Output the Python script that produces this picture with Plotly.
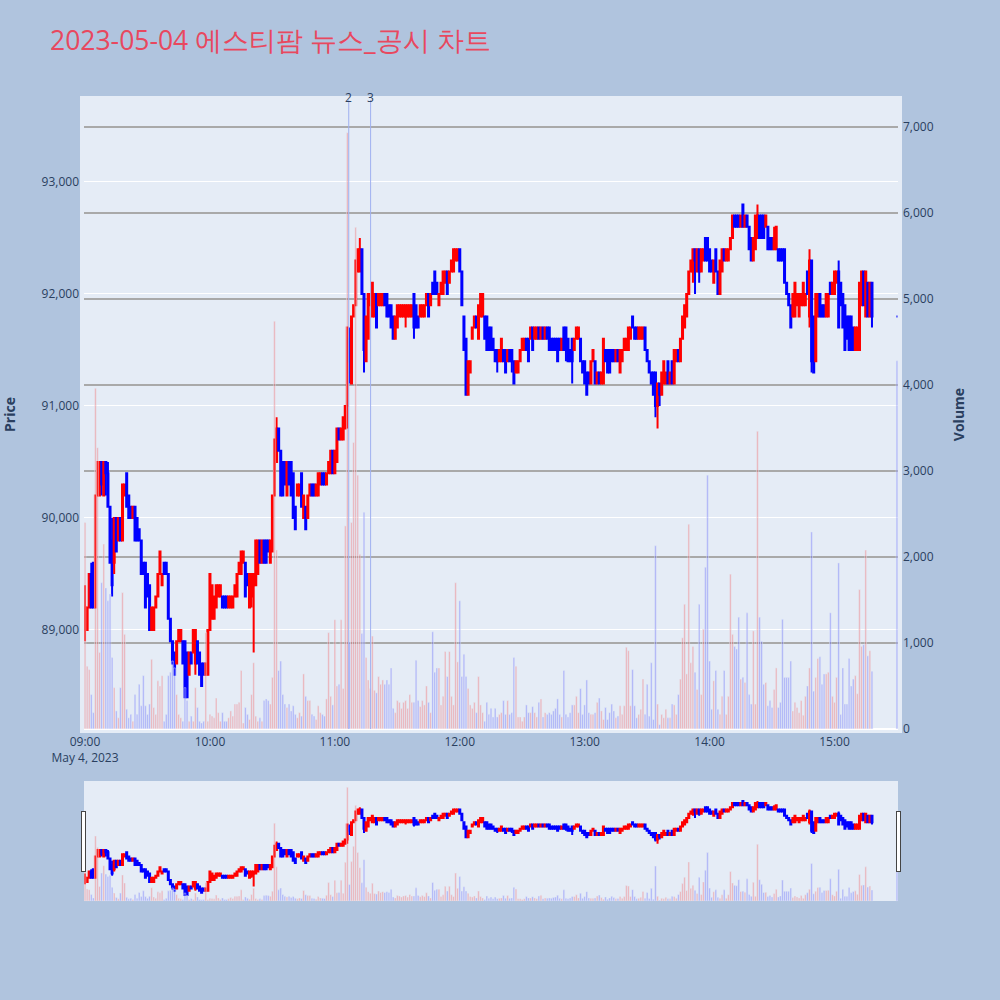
import pandas as pd
import plotly.graph_objects as go
from plotly.subplots import make_subplots

TITLE = "2023-05-04 에스티팜 뉴스_공시 차트"

# one-minute bars 09:00..15:18 plus the 15:30 closing auction
times = list(pd.date_range("2023-05-04 09:00", periods=379, freq="min")) + [pd.Timestamp("2023-05-04 15:30")]

opens = [
 89000, 89000, 89200, 89500, 89600, 89200, 90200, 90200, 90500, 90200,
 90500, 90400, 90100, 89800, 89600, 90000, 89800, 90000, 89800, 90200,
 90400, 90200, 90100, 90000, 90100, 90000, 89900, 89800, 89600, 89600,
 89500, 89400, 89000, 89000, 89200, 89300, 89500, 89400, 89600, 89600,
 89500, 89100, 88900, 88800, 88700, 88900, 88900, 88900, 88900, 88800,
 88600, 88800, 88800, 88700, 88900, 88800, 88700, 88700, 88600, 88600,
 89000, 89100, 89100, 89200, 89300, 89300, 89300, 89300, 89300, 89200,
 89200, 89200, 89300, 89300, 89500, 89500, 89600, 89600, 89500, 89200,
 89300, 89400, 89400, 89500, 89800, 89600, 89800, 89800, 89800, 89600,
 89700, 90200, 90500, 90800, 90600, 90500, 90500, 90200, 90500, 90500,
 90400, 90100, 90200, 90200, 90400, 90000, 90100, 90000, 90200, 90300,
 90300, 90200, 90200, 90300, 90400, 90400, 90300, 90400, 90400, 90600,
 90400, 90500, 90800, 90700, 90700, 90800, 91000, 91600, 91200, 91800,
 91900, 92200, 92200, 92400, 92000, 91400, 91600, 91900, 91800, 91800,
 92000, 91900, 91900, 91900, 92000, 92000, 91900, 91900, 91800, 91600,
 91700, 91800, 91800, 91800, 91800, 91800, 91800, 91800, 92000, 91900,
 91800, 91800, 91800, 91800, 91900, 92000, 91900, 92100, 92200, 92100,
 91900, 92000, 92000, 92100, 92200, 92100, 92200, 92200, 92300, 92300,
 92400, 92200, 91800, 91600, 91100, 91300, 91600, 91700, 91800, 91600,
 91800, 91800, 91800, 91800, 91700, 91700, 91600, 91500, 91500, 91400,
 91400, 91500, 91500, 91400, 91500, 91500, 91400, 91300, 91300, 91400,
 91500, 91500, 91600, 91600, 91600, 91700, 91600, 91600, 91700, 91600,
 91700, 91600, 91700, 91700, 91600, 91600, 91600, 91600, 91600, 91500,
 91700, 91700, 91600, 91500, 91600, 91500, 91600, 91600, 91600, 91400,
 91400, 91300, 91300, 91200, 91400, 91400, 91200, 91300, 91200, 91200,
 91500, 91500, 91500, 91500, 91500, 91400, 91500, 91300, 91400, 91500,
 91500, 91500, 91600, 91800, 91700, 91700, 91600, 91600, 91600, 91700,
 91500, 91400, 91300, 91300, 91300, 91000, 91200, 91100, 91200, 91200,
 91400, 91200, 91400, 91200, 91400, 91500, 91400, 91600, 91700, 91800,
 92000, 92200, 92200, 92400, 92200, 92400, 92200, 92300, 92500, 92500,
 92400, 92300, 92100, 92400, 92200, 92000, 92200, 92400, 92300, 92300,
 92400, 92500, 92700, 92700, 92700, 92600, 92800, 92600, 92700, 92600,
 92500, 92300, 92400, 92500, 92700, 92700, 92700, 92600, 92600, 92500,
 92500, 92400, 92400, 92400, 92400, 92400, 92400, 92100, 92000, 91900,
 91800, 91800, 91900, 91800, 91900, 91900, 91900, 92200, 91800, 92300,
 91800, 91400, 91800, 92000, 91900, 91900, 91800, 91800, 92100, 92000,
 92000, 92100, 92200, 92100, 92000, 91900, 91800, 91800, 91800, 91700,
 91500, 91500, 91500, 91900, 92200, 91800, 92100, 91800, 92100,
 91800,
]

highs = [
 89400, 89200, 89500, 89600, 89600, 90200, 90500, 90500, 90500, 90500,
 90500, 90500, 90100, 90000, 90000, 90000, 90000, 90000, 90300, 90300,
 90400, 90200, 90100, 90100, 90100, 90000, 89900, 89800, 89600, 89600,
 89500, 89400, 89200, 89200, 89300, 89500, 89700, 89500, 89600, 89600,
 89500, 89100, 88900, 88800, 88900, 89000, 89000, 88900, 88900, 88800,
 88800, 88800, 89000, 89000, 88900, 88800, 88700, 88700, 88700, 89000,
 89500, 89400, 89300, 89400, 89400, 89400, 89300, 89300, 89300, 89300,
 89300, 89300, 89400, 89500, 89600, 89700, 89700, 89600, 89500, 89500,
 89500, 89500, 89800, 89800, 89800, 89800, 89800, 89800, 89800, 89800,
 90200, 90700, 90900, 90800, 90600, 90500, 90500, 90500, 90500, 90500,
 90400, 90100, 90300, 90300, 90400, 90200, 90100, 90200, 90300, 90300,
 90300, 90300, 90400, 90400, 90400, 90400, 90400, 90500, 90600, 90600,
 90600, 90800, 90800, 90800, 90900, 91000, 91700, 91700, 91800, 91900,
 92300, 92400, 92500, 92400, 92000, 91800, 92000, 92000, 92100, 92000,
 92000, 92000, 92000, 92000, 92000, 92000, 91900, 91900, 91800, 91800,
 91900, 91900, 91900, 91900, 91900, 91900, 91900, 91900, 92000, 91900,
 91800, 91900, 91900, 91900, 92000, 92000, 92000, 92100, 92200, 92100,
 92000, 92100, 92200, 92200, 92200, 92200, 92300, 92400, 92400, 92400,
 92400, 92200, 91800, 91600, 91400, 91400, 91700, 91800, 91800, 91900,
 92000, 92000, 91800, 91800, 91700, 91700, 91600, 91500, 91500, 91500,
 91600, 91500, 91500, 91500, 91500, 91500, 91400, 91400, 91400, 91500,
 91600, 91600, 91600, 91600, 91700, 91700, 91700, 91700, 91700, 91700,
 91700, 91700, 91700, 91700, 91600, 91600, 91600, 91600, 91600, 91600,
 91700, 91700, 91600, 91500, 91600, 91600, 91700, 91700, 91600, 91400,
 91400, 91300, 91300, 91400, 91500, 91400, 91300, 91300, 91300, 91600,
 91500, 91500, 91500, 91500, 91500, 91500, 91500, 91500, 91500, 91600,
 91600, 91700, 91700, 91800, 91700, 91700, 91700, 91700, 91700, 91700,
 91500, 91400, 91300, 91300, 91300, 91200, 91200, 91300, 91400, 91300,
 91400, 91300, 91400, 91500, 91500, 91500, 91600, 91800, 91900, 92000,
 92200, 92300, 92400, 92400, 92400, 92400, 92400, 92400, 92500, 92500,
 92400, 92300, 92300, 92400, 92200, 92300, 92400, 92400, 92400, 92400,
 92500, 92700, 92700, 92700, 92700, 92700, 92800, 92700, 92700, 92600,
 92500, 92500, 92700, 92800, 92700, 92700, 92700, 92700, 92600, 92500,
 92500, 92600, 92600, 92400, 92400, 92400, 92400, 92100, 92000, 91900,
 92000, 92100, 92000, 92000, 92000, 92100, 92000, 92200, 92400, 92300,
 91800, 92000, 92000, 92000, 91900, 91900, 92000, 92000, 92100, 92100,
 92200, 92200, 92300, 92100, 92000, 91900, 91800, 91800, 91800, 91700,
 91700, 91700, 92100, 92200, 92200, 92200, 92100, 92100, 92100,
 91800,
]

lows = [
 88900, 89000, 89200, 89200, 89200, 89200, 90200, 90200, 90200, 90200,
 90200, 90100, 89600, 89300, 89500, 89700, 89800, 89800, 89800, 90200,
 90100, 90000, 90000, 90000, 89800, 89800, 89800, 89500, 89500, 89200,
 89300, 89000, 89000, 89000, 89200, 89300, 89500, 89400, 89500, 89500,
 89100, 88900, 88700, 88600, 88700, 88900, 88900, 88700, 88400, 88400,
 88600, 88700, 88800, 88600, 88700, 88600, 88500, 88600, 88600, 88600,
 89000, 89100, 89100, 89200, 89300, 89300, 89200, 89200, 89200, 89200,
 89200, 89200, 89300, 89300, 89500, 89500, 89600, 89300, 89400, 89200,
 89200, 88800, 89400, 89500, 89600, 89600, 89600, 89600, 89700, 89600,
 89700, 90200, 90500, 90600, 90200, 90200, 90300, 90200, 90300, 90200,
 90000, 89900, 90200, 90200, 90100, 90000, 89900, 90000, 90200, 90200,
 90200, 90200, 90200, 90300, 90300, 90300, 90300, 90400, 90400, 90400,
 90400, 90500, 90700, 90700, 90700, 90800, 90800, 91200, 91200, 91800,
 91900, 92200, 92200, 92000, 91300, 91400, 91600, 91900, 91800, 91800,
 91700, 91900, 91900, 91900, 91900, 91800, 91800, 91700, 91600, 91600,
 91700, 91800, 91800, 91800, 91700, 91800, 91800, 91800, 91600, 91700,
 91700, 91800, 91800, 91800, 91900, 91800, 91900, 92000, 92000, 92000,
 91900, 92000, 92000, 92100, 92000, 92100, 92200, 92200, 92300, 92300,
 92200, 91900, 91500, 91100, 91100, 91300, 91600, 91700, 91700, 91600,
 91800, 91800, 91600, 91500, 91500, 91500, 91500, 91400, 91300, 91400,
 91400, 91400, 91300, 91400, 91400, 91300, 91200, 91300, 91300, 91400,
 91500, 91500, 91500, 91400, 91600, 91500, 91600, 91600, 91600, 91600,
 91600, 91600, 91600, 91500, 91500, 91500, 91500, 91400, 91500, 91500,
 91500, 91400, 91400, 91400, 91200, 91500, 91600, 91600, 91400, 91300,
 91200, 91100, 91200, 91200, 91400, 91200, 91200, 91200, 91200, 91200,
 91400, 91300, 91300, 91400, 91400, 91400, 91400, 91300, 91400, 91500,
 91500, 91500, 91600, 91700, 91600, 91600, 91600, 91600, 91600, 91500,
 91400, 91300, 91200, 91100, 90900, 90800, 91000, 91100, 91200, 91200,
 91200, 91200, 91200, 91200, 91400, 91400, 91400, 91600, 91700, 91800,
 92000, 92200, 92100, 92000, 92200, 92100, 92200, 92300, 92300, 92300,
 92200, 92200, 92100, 92200, 92000, 92000, 92200, 92300, 92300, 92300,
 92400, 92500, 92600, 92600, 92600, 92600, 92600, 92600, 92600, 92400,
 92300, 92300, 92400, 92500, 92500, 92500, 92500, 92600, 92400, 92400,
 92400, 92400, 92400, 92300, 92300, 92300, 92100, 92000, 91900, 91700,
 91800, 91800, 91900, 91800, 91900, 91900, 91900, 92000, 91700, 91300,
 91300, 91400, 91800, 91800, 91800, 91800, 91800, 91800, 92000, 92000,
 92000, 92100, 91700, 91900, 91700, 91500, 91600, 91500, 91500, 91500,
 91500, 91500, 91500, 91900, 91900, 91800, 91800, 91800, 91700,
 91800,
]

closes = [
 89200, 89200, 89500, 89200, 89200, 90200, 90500, 90500, 90300, 90500,
 90400, 90100, 89600, 89400, 90000, 89700, 90000, 89800, 90300, 90300,
 90100, 90000, 90000, 90100, 89800, 89800, 89800, 89500, 89500, 89200,
 89300, 89000, 89200, 89200, 89300, 89500, 89700, 89500, 89500, 89500,
 89100, 88900, 88700, 88600, 88900, 89000, 89000, 88700, 88400, 88400,
 88800, 88700, 89000, 89000, 88700, 88600, 88500, 88600, 88700, 89000,
 89500, 89400, 89300, 89400, 89400, 89400, 89200, 89200, 89200, 89300,
 89300, 89300, 89400, 89500, 89600, 89700, 89700, 89300, 89400, 89500,
 89500, 89500, 89800, 89800, 89600, 89800, 89600, 89600, 89700, 89800,
 90200, 90700, 90800, 90600, 90200, 90200, 90300, 90500, 90300, 90200,
 90000, 89900, 90300, 90300, 90100, 90200, 89900, 90200, 90300, 90200,
 90200, 90300, 90400, 90400, 90300, 90300, 90400, 90500, 90600, 90400,
 90600, 90800, 90700, 90800, 90900, 91000, 91700, 91400, 91800, 91900,
 92300, 92400, 92400, 92000, 91500, 91800, 92000, 92000, 92100, 92000,
 91700, 92000, 92000, 92000, 91900, 91800, 91800, 91700, 91600, 91800,
 91900, 91900, 91900, 91900, 91900, 91900, 91900, 91900, 91700, 91700,
 91700, 91900, 91900, 91900, 92000, 91800, 92000, 92000, 92000, 92000,
 92000, 92100, 92200, 92200, 92000, 92200, 92300, 92400, 92400, 92400,
 92200, 91900, 91500, 91100, 91400, 91400, 91700, 91800, 91700, 91900,
 92000, 92000, 91600, 91500, 91500, 91500, 91500, 91400, 91400, 91500,
 91600, 91400, 91300, 91500, 91400, 91400, 91200, 91400, 91400, 91500,
 91600, 91600, 91500, 91400, 91700, 91500, 91700, 91700, 91600, 91700,
 91600, 91700, 91600, 91500, 91500, 91500, 91500, 91400, 91500, 91600,
 91500, 91500, 91400, 91400, 91400, 91600, 91700, 91700, 91400, 91300,
 91200, 91100, 91200, 91400, 91500, 91200, 91300, 91200, 91300, 91600,
 91400, 91300, 91300, 91400, 91400, 91500, 91400, 91500, 91500, 91600,
 91600, 91700, 91700, 91700, 91600, 91600, 91700, 91700, 91700, 91500,
 91400, 91300, 91200, 91100, 91000, 91200, 91100, 91300, 91400, 91300,
 91200, 91300, 91200, 91500, 91500, 91400, 91600, 91800, 91900, 92000,
 92200, 92300, 92400, 92300, 92400, 92200, 92400, 92400, 92300, 92300,
 92200, 92200, 92300, 92200, 92000, 92300, 92400, 92300, 92400, 92400,
 92500, 92700, 92600, 92600, 92600, 92700, 92600, 92700, 92600, 92400,
 92300, 92500, 92700, 92700, 92500, 92500, 92500, 92700, 92400, 92400,
 92400, 92500, 92600, 92300, 92300, 92300, 92100, 92000, 91900, 91700,
 92000, 92100, 92000, 92000, 92000, 92100, 92000, 92000, 92300, 91400,
 91300, 92000, 92000, 91800, 91800, 91800, 92000, 92000, 92000, 92100,
 92200, 92200, 91700, 91900, 91700, 91500, 91600, 91500, 91500, 91500,
 91700, 91700, 92100, 92200, 91900, 92200, 91800, 92100, 91800,
 91800,
]

volumes = [
 2400, 730, 690, 400, 190, 3960, 3270, 890, 1700, 2150,
 1640, 1490, 1570, 830, 480, 210, 130, 480, 1585, 1100,
 230, 130, 170, 90, 400, 170, 520, 270, 620, 270,
 170, 290, 810, 250, 170, 560, 500, 620, 90, 170,
 620, 660, 790, 710, 400, 170, 130, 90, 480, 330,
 90, 150, 90, 480, 250, 90, 70, 90, 1120, 90,
 170, 150, 130, 360, 190, 90, 190, 90, 90, 130,
 210, 150, 290, 290, 310, 680, 70, 250, 170, 110,
 400, 770, 150, 90, 130, 90, 330, 350, 330, 290,
 600, 4740, 2080, 680, 790, 400, 290, 250, 290, 210,
 270, 170, 130, 190, 150, 640, 380, 330, 330, 170,
 150, 110, 270, 190, 170, 150, 350, 1120, 380, 280,
 1270, 500, 520, 1270, 470, 2360, 6930, 1010, 2400, 3330,
 5830, 2950, 2030, 1110, 2520, 830, 570, 470, 1080, 450,
 420, 610, 520, 570, 520, 570, 520, 710, 240, 190,
 330, 310, 240, 310, 330, 240, 400, 310, 310, 800,
 330, 260, 330, 280, 500, 310, 190, 1130, 660, 710,
 710, 280, 380, 900, 610, 900, 380, 280, 1700, 780,
 1490, 610, 870, 610, 470, 280, 240, 310, 190, 610,
 280, 190, 90, 310, 170, 240, 140, 240, 140, 170,
 190, 330, 170, 330, 170, 190, 830, 730, 140, 140,
 90, 140, 280, 190, 190, 260, 190, 140, 310, 350,
 140, 190, 170, 190, 170, 210, 240, 350, 170, 140,
 680, 170, 140, 190, 280, 280, 380, 190, 470, 170,
 280, 570, 190, 170, 170, 190, 310, 360, 210, 110,
 250, 110, 190, 290, 210, 130, 150, 270, 170, 270,
 950, 910, 270, 690, 270, 130, 170, 230, 580, 170,
 520, 150, 770, 110, 2130, 290, 50, 170, 130, 230,
 130, 130, 290, 280, 170, 400, 580, 1060, 1450, 640,
 2380, 770, 960, 660, 460, 1450, 400, 1160, 1880, 2950,
 790, 230, 560, 680, 230, 170, 380, 680, 170, 380,
 1800, 1100, 960, 930, 1300, 580, 600, 540, 1350, 400,
 290, 1140, 290, 3460, 1300, 1020, 520, 540, 270, 330,
 250, 460, 710, 250, 310, 1275, 600, 600, 600, 790,
 210, 310, 250, 190, 330, 160, 380, 500, 710, 2290,
 440, 600, 820, 840, 520, 640, 640, 660, 1350, 380,
 310, 600, 1930, 170, 710, 290, 290, 820, 500, 580,
 620, 410, 1620, 960, 980, 2080, 850, 910, 670,
 4280,
]

news_times = ["2023-05-04 11:06:40", "2023-05-04 11:17:10"]
news_labels = ["2", "3"]

vol_colors = ["rgba(255,0,0,0.25)" if c > o else "rgba(0,0,255,0.25)" for o, c in zip(opens, closes)]

fig = make_subplots(specs=[[{"secondary_y": True}]])
fig.add_trace(go.Candlestick(
    x=times, open=opens, high=highs, low=lows, close=closes, name="Price",
    increasing=dict(line=dict(color="red"), fillcolor="red"),
    decreasing=dict(line=dict(color="blue"), fillcolor="blue"),
), secondary_y=False)
fig.add_trace(go.Bar(x=times, y=volumes, name="Volume", marker=dict(color=vol_colors)),
              secondary_y=True)

for t, lab in zip(news_times, news_labels):
    fig.add_shape(type="line", xref="x", yref="paper", x0=t, x1=t, y0=0, y1=1,
                  line=dict(color="#9FB0F0", width=1))
    fig.add_annotation(x=t, xref="x", y=1, yref="paper", text=lab, showarrow=False,
                       yanchor="middle", yshift=3, font=dict(size=12, color="#2a3f5f"))

fig.update_layout(
    width=1000, height=1000,
    title=dict(text=TITLE, font=dict(size=26.5, color="#E8485F")),
    paper_bgcolor="lightsteelblue",
    plot_bgcolor="#E5ECF6",
    showlegend=False,
    margin=dict(l=84, r=102, t=100, b=271, pad=4, autoexpand=False),
)
fig.update_xaxes(showgrid=False, domain=[0, 1],
                 rangeslider=dict(visible=True, bgcolor="#E5ECF6", thickness=0.191))
fig.update_yaxes(title_text="<b>Price</b>", tickformat=",", range=[88116, 93732],
                 title_standoff=26, secondary_y=False)
fig.update_yaxes(title_text="<b>Volume</b>", tickformat=",", range=[0, 7310],
                 gridcolor="#A9A9A9", gridwidth=2, title_standoff=25, secondary_y=True)

fig.write_html("out.html", config={"displayModeBar": False},
               post_script="document.body.style.margin='0';")
